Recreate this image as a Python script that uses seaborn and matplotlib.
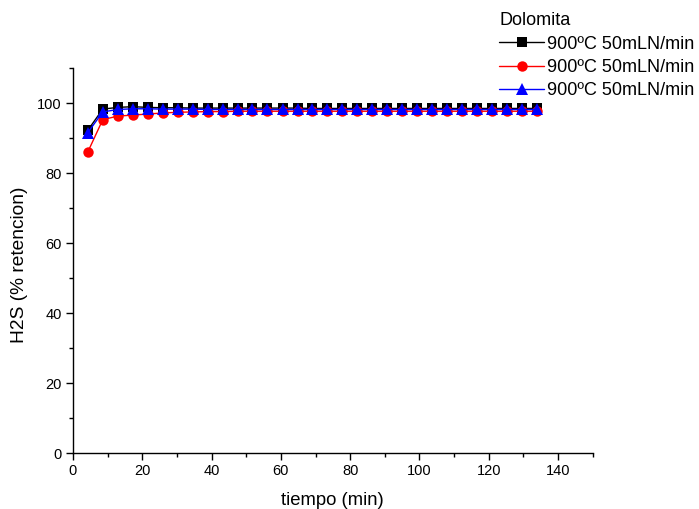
import matplotlib
matplotlib.use("Agg")
import matplotlib.pyplot as plt
import seaborn as sns
import pandas as pd
from matplotlib.ticker import MultipleLocator

sns.set_style("ticks")
plt.rcParams['font.family'] = ['Liberation Sans', 'DejaVu Sans']
plt.rcParams.update({"text.color": "black", "axes.labelcolor": "black",
                     "xtick.color": "black", "ytick.color": "black",
                     "axes.edgecolor": "black"})

tiempo = [4.3, 8.6, 12.9, 17.3, 21.6, 25.9, 30.2, 34.5, 38.9, 43.2, 47.5, 51.8,
          56.1, 60.5, 64.8, 69.1, 73.4, 77.7, 82.1, 86.4, 90.7, 95.0, 99.3,
          103.7, 108.0, 112.3, 116.6, 120.9, 125.3, 129.6, 133.9]
serie_negra = [92.3, 98.3, 98.8, 99.0, 98.8, 98.7, 98.7, 98.6, 98.6, 98.6, 98.6,
               98.6, 98.6, 98.6, 98.6, 98.5, 98.5, 98.5, 98.5, 98.5, 98.5, 98.5,
               98.5, 98.5, 98.5, 98.5, 98.5, 98.5, 98.5, 98.5, 98.5]
serie_roja = [86.1, 95.3, 96.3, 96.6, 96.9, 97.2, 97.4, 97.5, 97.6, 97.6, 97.7,
              97.7, 97.7, 97.7, 97.7, 97.7, 97.7, 97.7, 97.7, 97.7, 97.7, 97.7,
              97.7, 97.7, 97.7, 97.7, 97.7, 97.7, 97.7, 97.7, 97.7]
serie_azul = [91.6, 97.5, 98.2, 98.4, 98.4, 98.3, 98.3, 98.3, 98.2, 98.2, 98.2,
              98.2, 98.2, 98.2, 98.2, 98.2, 98.2, 98.2, 98.2, 98.2, 98.2, 98.2,
              98.2, 98.2, 98.2, 98.2, 98.2, 98.2, 98.2, 98.2, 98.2]
etiqueta = "900ºC 50mLN/min"

df = pd.DataFrame({"t": tiempo, "negra": serie_negra, "roja": serie_roja, "azul": serie_azul})

fig = plt.figure(figsize=(6.99, 5.09), dpi=100)
ax = fig.add_axes([0.1044, 0.110, 0.7436, 0.756])

sns.lineplot(data=df, x="t", y="negra", ax=ax, color="black", marker="s",
             markersize=6.5, markeredgewidth=0, linewidth=1, label=etiqueta)
sns.lineplot(data=df, x="t", y="roja", ax=ax, color="red", marker="o",
             markersize=7.5, markeredgewidth=0, linewidth=1, label=etiqueta)
sns.lineplot(data=df, x="t", y="azul", ax=ax, color="blue", marker="^",
             markersize=8, markeredgewidth=0, linewidth=1, label=etiqueta)

ax.set_xlim(0, 150)
ax.set_ylim(0, 110)
ax.xaxis.set_minor_locator(MultipleLocator(10))
ax.yaxis.set_major_locator(MultipleLocator(20))
ax.yaxis.set_minor_locator(MultipleLocator(10))
ax.set_xticks([0, 20, 40, 60, 80, 100, 120, 140])
ax.tick_params(which="major", length=5, width=1, labelsize=10.5, direction="out", pad=3)
ax.tick_params(which="minor", length=3, width=1, direction="out")
for s in ["top", "right"]:
    ax.spines[s].set_visible(False)
for s in ["left", "bottom"]:
    ax.spines[s].set_linewidth(1)

ax.set_xlabel("tiempo (min)", fontsize=13.3, labelpad=10)
ax.set_ylabel("H2S (% retencion)", fontsize=13.8)
ax.yaxis.set_label_coords(-0.087, 0.49)

leg = ax.legend(title="Dolomita", loc="upper left", bbox_to_anchor=(0.82, 1.145),
                frameon=False, fontsize=13, title_fontsize=13, handlelength=2.5,
                handletextpad=0.15, labelspacing=0.35, borderaxespad=0, borderpad=0)
leg._legend_box.align = "left"

fig.savefig("out.png", dpi=100)
